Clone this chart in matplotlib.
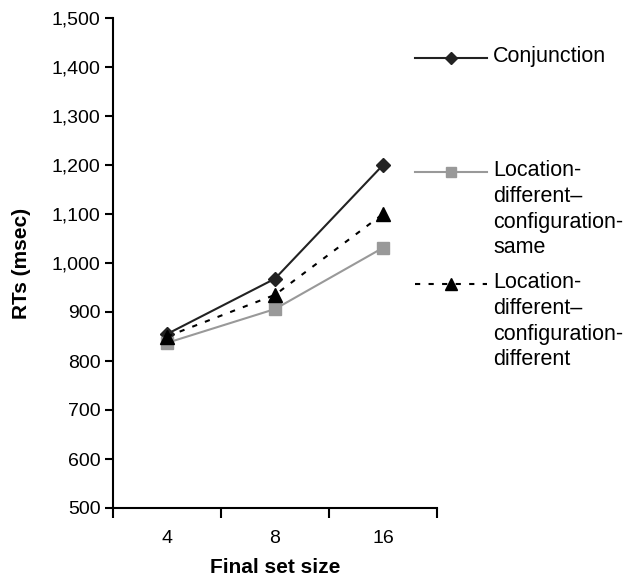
import matplotlib.pyplot as plt
from matplotlib.lines import Line2D

plt.rcParams['font.family'] = ['Liberation Sans', 'DejaVu Sans']

set_sizes = ['4', '8', '16']
conjunction = [855, 968, 1200]
loc_diff_conf_same = [837, 906, 1031]
loc_diff_conf_diff = [850, 935, 1100]

labels = ['Conjunction',
          'Location-\ndifferent\u2013\nconfiguration-\nsame',
          'Location-\ndifferent\u2013\nconfiguration-\ndifferent']

styles = [
    dict(color='#222222', linestyle='-', marker='D', markersize=7, lw=1.5),
    dict(color='#999999', linestyle='-', marker='s', markersize=8, lw=1.5),
    dict(color='#000000', linestyle=(0, (2.5, 4)), marker='^', markersize=10, lw=1.5),
]

fig = plt.figure(figsize=(6.35, 5.76), dpi=100)
ax = fig.add_axes([113 / 635, 68 / 576, 324 / 635, 490 / 576])

x = list(range(len(set_sizes)))
for vals, st in zip([conjunction, loc_diff_conf_same, loc_diff_conf_diff], styles):
    ax.plot(x, vals, **st)

ax.set_xlim(-0.5, 2.5)
ax.set_ylim(500, 1500)
ax.set_yticks(range(500, 1501, 100))
ax.set_yticklabels([f'{v:,}' for v in range(500, 1501, 100)])
ax.set_xticks(x)
ax.set_xticklabels(set_sizes)
ax.set_xticks([-0.5, 0.5, 1.5, 2.5], minor=True)
ax.tick_params(axis='x', which='major', length=0, pad=16, labelsize=14)
ax.tick_params(axis='x', which='minor', length=7, width=1.5, direction='out')
ax.tick_params(axis='y', length=6, width=1.5, direction='out', labelsize=14, pad=3)

for s in ['top', 'right']:
    ax.spines[s].set_visible(False)
for s in ['left', 'bottom']:
    ax.spines[s].set_linewidth(1.5)

ax.set_ylabel('RTs (msec)', fontsize=15, fontweight='bold', labelpad=15)
ax.set_xlabel('Final set size', fontsize=15, fontweight='bold', labelpad=8)

# legend drawn by hand so each handle sits on the first text line
W, H = 635, 576
leg_y = [58, 172, 284]
for yy, lab, st in zip(leg_y, labels, styles):
    fy = 1 - yy / H
    fig.add_artist(Line2D([415 / W, 487 / W], [fy, fy], color=st['color'],
                          linestyle=st['linestyle'], lw=st['lw']))
    fig.add_artist(Line2D([451 / W], [fy], color=st['color'], marker=st['marker'],
                          markersize=st['markersize'] - 1, linestyle='none'))
    fig.text(493 / W, 1 - (yy - 12) / H, lab, fontsize=15.5, va='top', ha='left',
             linespacing=1.3, transform=fig.transFigure)

fig.savefig('out.png', dpi=100)
